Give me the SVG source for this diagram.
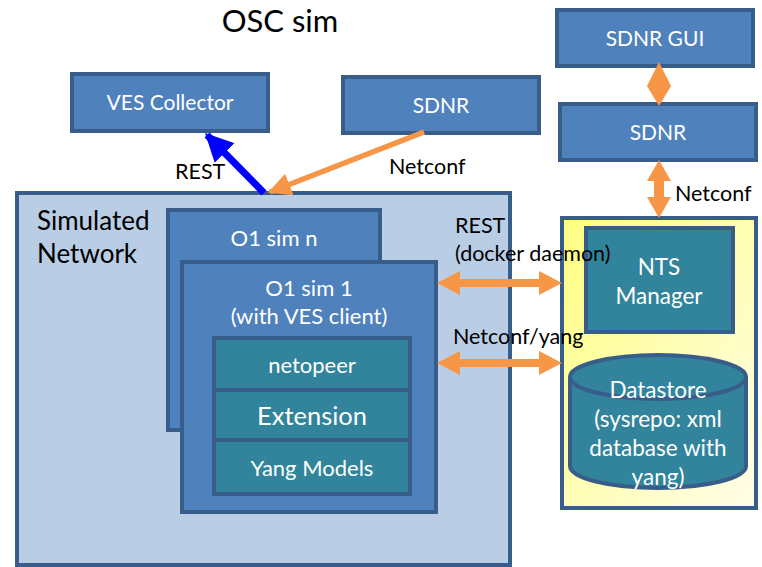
<svg xmlns="http://www.w3.org/2000/svg" width="762" height="567" viewBox="0 0 762 567">
<defs>
<linearGradient id="yel" x1="0" y1="0" x2="1" y2="1">
<stop offset="0" stop-color="#ffff80"/>
<stop offset="1" stop-color="#fffde8"/>
</linearGradient>
<marker id="blueHead" viewBox="0 0 10 10" refX="9" refY="5" markerWidth="4" markerHeight="4" orient="auto" markerUnits="strokeWidth">
<path d="M0,0 L10,5 L0,10 z" fill="#0000ff"/>
</marker>
<marker id="orHead" viewBox="0 0 10 10" refX="9" refY="5" markerWidth="4.2" markerHeight="4.2" orient="auto" markerUnits="strokeWidth">
<path d="M0,0 L10,5 L0,10 z" fill="#f79646"/>
</marker>
</defs>
<style>
.box{fill:#4f81bd;stroke:#385d8a;stroke-width:4}
.teal{fill:#31849b;stroke:#385d8a;stroke-width:4}
.wt{fill:#ffffff;font-family:Lato,"Open Sans",sans-serif;text-anchor:middle}
.bt{fill:#000000;font-family:Lato,"Open Sans",sans-serif}
.oarrow{fill:#f79646}
</style>
<rect width="762" height="567" fill="#ffffff"/>
<text x="280" y="32" class="bt" font-size="31" text-anchor="middle">OSC sim</text>

<g id="ves-collector">
<rect x="72" y="74" width="196" height="57" class="box"/>
<text x="170" y="110" class="wt" font-size="21">VES Collector</text>
</g>
<g id="sdnr-left">
<rect x="343" y="77" width="196" height="56" class="box"/>
<text x="441" y="113" class="wt" font-size="21">SDNR</text>
</g>
<g id="sdnr-gui">
<rect x="557" y="10" width="196" height="56" class="box"/>
<text x="655" y="46" class="wt" font-size="21">SDNR GUI</text>
</g>
<g id="sdnr-right">
<rect x="560" y="104" width="196" height="56" class="box"/>
<text x="658" y="140" class="wt" font-size="21">SDNR</text>
</g>

<g id="simulated-network">
<rect x="17" y="193" width="493" height="372" fill="#b9cde5" stroke="#385d8a" stroke-width="4"/>
<text x="37" y="230" class="bt" font-size="26">Simulated</text>
<text x="37" y="263" class="bt" font-size="26">Network</text>
</g>
<g id="o1-sim-n">
<rect x="168" y="210" width="212" height="220" class="box"/>
<text x="274" y="246" class="wt" font-size="22">O1 sim n</text>
</g>
<g id="o1-sim-1">
<rect x="182" y="262" width="254" height="250" class="box"/>
<text x="309" y="296" class="wt" font-size="22">O1 sim 1</text>
<text x="309" y="324" class="wt" font-size="22">(with VES client)</text>
</g>
<g id="netopeer">
<rect x="214" y="338" width="196" height="52" class="teal"/>
<text x="312" y="373" class="wt" font-size="22">netopeer</text>
</g>
<g id="extension">
<rect x="214" y="390" width="196" height="50" class="teal"/>
<text x="312" y="425" class="wt" font-size="25.5">Extension</text>
</g>
<g id="yang-models">
<rect x="214" y="440" width="196" height="54" class="teal"/>
<text x="312" y="476" class="wt" font-size="22">Yang Models</text>
</g>

<g id="nts-container">
<rect x="562" y="218" width="194" height="290" fill="url(#yel)" stroke="#385d8a" stroke-width="4"/>
</g>
<g id="nts-manager">
<rect x="586" y="228" width="147" height="104" class="teal"/>
<text x="659" y="275" class="wt" font-size="22.5">NTS</text>
<text x="659" y="304" class="wt" font-size="22.5">Manager</text>
</g>
<g id="datastore">
<path d="M570,377 L570,466 A88,22 0 0 0 746,466 L746,377" class="teal"/>
<ellipse cx="658" cy="377" rx="88" ry="22" class="teal"/>
<text x="658" y="398" class="wt" font-size="22.5">Datastore</text>
<text x="658" y="427" class="wt" font-size="22.5">(sysrepo: xml</text>
<text x="658" y="456" class="wt" font-size="22.5">database with</text>
<text x="658" y="485" class="wt" font-size="22.5">yang)</text>
</g>

<g id="connectors">
<line x1="264" y1="193" x2="207" y2="135" stroke="#0000ff" stroke-width="7" marker-end="url(#blueHead)"/>
<line x1="424" y1="132" x2="270" y2="192" stroke="#f79646" stroke-width="5.5" marker-end="url(#orHead)"/>
<path class="oarrow" d="M647,86 L659,62 L671,86 L659,106 Z"/>
<path class="oarrow" d="M659,160 L671,181 L664,181 L664,197 L671,197 L659,218 L647,197 L654,197 L654,181 L647,181 Z"/>
<path class="oarrow" d="M437,283 L460,271 L460,279 L539,279 L539,271 L562,283 L539,295 L539,287 L460,287 L460,295 Z"/>
<path class="oarrow" d="M437,363 L460,351 L460,359 L539,359 L539,351 L562,363 L539,375 L539,367 L460,367 L460,375 Z"/>
<text x="175" y="179" class="bt" font-size="21.5">REST</text>
<text x="389" y="174" class="bt" font-size="21.5">Netconf</text>
<text x="675" y="201" class="bt" font-size="21.5">Netconf</text>
<text x="455" y="233" class="bt" font-size="21.5">REST</text>
<text x="455" y="261" class="bt" font-size="21.5">(docker daemon)</text>
<text x="453" y="344" class="bt" font-size="21.5">Netconf/yang</text>
</g>
</svg>
